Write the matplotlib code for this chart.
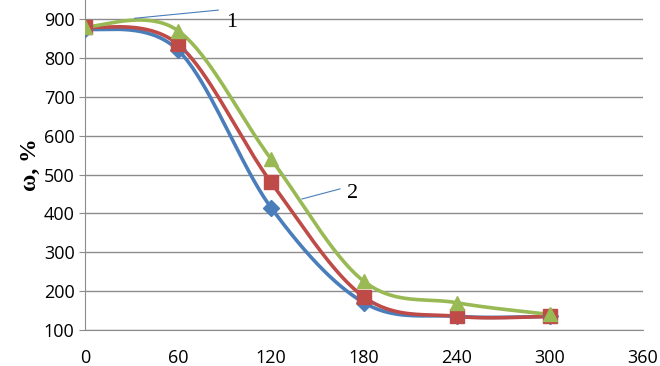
import numpy as np
import matplotlib
matplotlib.use('Agg')
import matplotlib.pyplot as plt

# time, min
x_vals = [0, 60, 120, 180, 240, 300]
# omega, % for the three samples
blue_vals = [875, 820, 415, 170, 135, 135]
red_vals = [880, 835, 480, 185, 135, 135]
green_vals = [880, 870, 540, 225, 170, 140]

x_ticks = [0, 60, 120, 180, 240, 300, 360]
y_ticks = [100, 200, 300, 400, 500, 600, 700, 800, 900]


def smooth(xs, ys, n=40):
    # bezier smoothing like the spreadsheet "smoothed line"
    p = np.column_stack([xs, ys]).astype(float)
    out = []
    for i in range(len(p) - 1):
        p0 = p[i - 1] if i > 0 else p[i]
        p3 = p[i + 2] if i + 2 < len(p) else p[i + 1]
        c1 = p[i] + (p[i + 1] - p0) / 6
        c2 = p[i + 1] - (p3 - p[i]) / 6
        t = np.linspace(0, 1, n)[:, None]
        seg = ((1 - t) ** 3 * p[i] + 3 * (1 - t) ** 2 * t * c1
               + 3 * (1 - t) * t ** 2 * c2 + t ** 3 * p[i + 1])
        out.append(seg)
    seg = np.vstack(out)
    return seg[:, 0], seg[:, 1]


fig = plt.figure(figsize=(6.6, 3.66), dpi=100)
ax = fig.add_axes([0.1288, 0.0984, 0.8454, 0.9016])

series = [
    (blue_vals, '#4A7EBB', 'D', 8),
    (red_vals, '#BE4B48', 's', 10),
    (green_vals, '#98B954', '^', 10.5),
]
for vals, col, mk, ms in series:
    sx, sy = smooth(x_vals, vals)
    ax.plot(sx, sy, color=col, lw=2.6, zorder=3)
    ax.plot(x_vals, vals, ls='none', marker=mk, ms=ms, color=col, zorder=4)

ax.set_xlim(0, 360)
ax.set_ylim(100, 949)
ax.set_xticks(x_ticks)
ax.set_yticks(y_ticks)
ax.grid(axis='y', color='#8c8c8c', lw=1)
ax.set_axisbelow(True)
for s in ['top', 'right']:
    ax.spines[s].set_visible(False)
ax.spines['bottom'].set_color('#8c8c8c')
ax.spines['left'].set_color('#8c8c8c')
ax.tick_params(axis='y', length=4, color='#8c8c8c', labelsize=13)
ax.tick_params(axis='x', length=0, labelsize=13, pad=14)
for lab in ax.get_xticklabels() + ax.get_yticklabels():
    lab.set_fontfamily('Open Sans')

ax.set_ylabel('ω, %', fontsize=17, fontweight='bold', family='Liberation Serif', labelpad=2)

ax.plot([32, 86], [902, 923], color='#4A7EBB', lw=0.8, zorder=5)
ax.text(91, 892, '1', fontsize=16, family='Liberation Serif', va='center')
ax.plot([140, 164.5], [437, 463], color='#4A7EBB', lw=0.8, zorder=5)
ax.text(169, 452, '2', fontsize=16, family='Liberation Serif', va='center')

fig.savefig('out.png', dpi=100)
